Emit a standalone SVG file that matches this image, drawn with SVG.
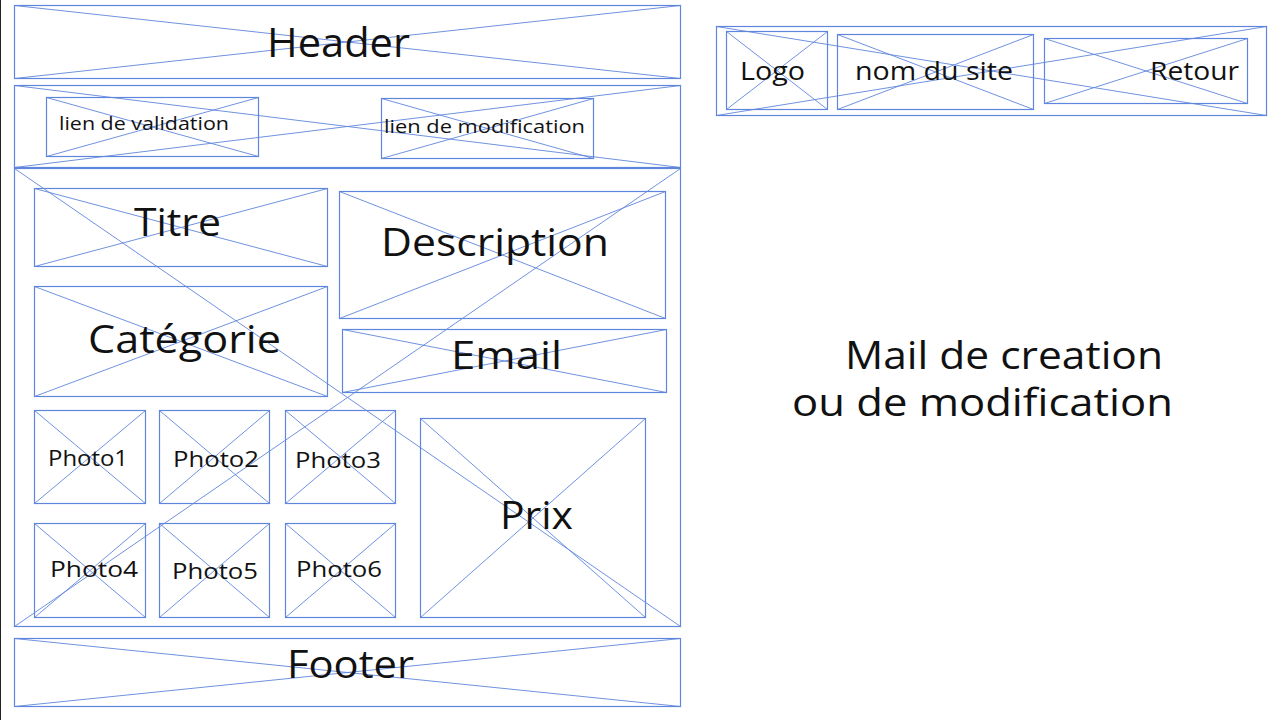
<svg xmlns="http://www.w3.org/2000/svg" width="1281" height="720" viewBox="0 0 1281 720">
<style>
.b{fill:none;stroke:#5f86dc;stroke-width:1.2}
.x{stroke:#5f86dc;stroke-width:0.9;fill:none}
text{font-family:"Open Sans","Liberation Sans",sans-serif;fill:#111;}
</style>
<rect width="1281" height="720" fill="#fff"/>
<line x1="0.5" y1="0" x2="0.5" y2="720" stroke="#222" stroke-width="1"/>
<g id="header"><rect class="b" x="14.5" y="5.5" width="666" height="73"/><path class="x" d="M14.5 5.5L680.5 78.5M680.5 5.5L14.5 78.5"/><text x="267" y="57" font-size="40" textLength="143" lengthAdjust="spacingAndGlyphs">Header</text></g>
<g id="liens"><rect class="b" x="14.5" y="85.5" width="666" height="82"/><path class="x" d="M14.5 85.5L680.5 167.5M680.5 85.5L14.5 167.5"/></g>
<g id="validation"><rect class="b" x="46.5" y="97.5" width="212" height="59"/><path class="x" d="M46.5 97.5L258.5 156.5M258.5 97.5L46.5 156.5"/><text x="59" y="130" font-size="19" textLength="170" lengthAdjust="spacingAndGlyphs">lien de validation</text></g>
<g id="modification"><rect class="b" x="381.5" y="98.5" width="212" height="60"/><path class="x" d="M381.5 98.5L593.5 158.5M593.5 98.5L381.5 158.5"/><text x="384" y="133" font-size="19" textLength="201" lengthAdjust="spacingAndGlyphs">lien de modification</text></g>
<g id="main"><rect class="b" x="14.5" y="168.5" width="666" height="458"/><path class="x" d="M14.5 168.5L680.5 626.5M680.5 168.5L14.5 626.5"/></g>
<g id="titre"><rect class="b" x="34.5" y="188.5" width="293" height="78"/><path class="x" d="M34.5 188.5L327.5 266.5M327.5 188.5L34.5 266.5"/><text x="134" y="236" font-size="38" textLength="87" lengthAdjust="spacingAndGlyphs">Titre</text></g>
<g id="description"><rect class="b" x="339.5" y="191.5" width="326" height="127"/><path class="x" d="M339.5 191.5L665.5 318.5M665.5 191.5L339.5 318.5"/><text x="381" y="256" font-size="38" textLength="228" lengthAdjust="spacingAndGlyphs">Description</text></g>
<g id="categorie"><rect class="b" x="34.5" y="286.5" width="293" height="110"/><path class="x" d="M34.5 286.5L327.5 396.5M327.5 286.5L34.5 396.5"/><text x="88" y="353" font-size="38" textLength="193" lengthAdjust="spacingAndGlyphs">Catégorie</text></g>
<g id="email"><rect class="b" x="342.5" y="329.5" width="324" height="63"/><path class="x" d="M342.5 329.5L666.5 392.5M666.5 329.5L342.5 392.5"/><text x="451" y="369" font-size="38" textLength="111" lengthAdjust="spacingAndGlyphs">Email</text></g>
<g id="photo1"><rect class="b" x="34.5" y="410.5" width="111" height="93"/><path class="x" d="M34.5 410.5L145.5 503.5M145.5 410.5L34.5 503.5"/><text x="48" y="466" font-size="22" textLength="80" lengthAdjust="spacingAndGlyphs">Photo1</text></g>
<g id="photo2"><rect class="b" x="159.5" y="410.5" width="110" height="93"/><path class="x" d="M159.5 410.5L269.5 503.5M269.5 410.5L159.5 503.5"/><text x="173" y="467" font-size="22" textLength="86" lengthAdjust="spacingAndGlyphs">Photo2</text></g>
<g id="photo3"><rect class="b" x="285.5" y="410.5" width="110" height="93"/><path class="x" d="M285.5 410.5L395.5 503.5M395.5 410.5L285.5 503.5"/><text x="295" y="468" font-size="22" textLength="86" lengthAdjust="spacingAndGlyphs">Photo3</text></g>
<g id="photo4"><rect class="b" x="34.5" y="523.5" width="111" height="94"/><path class="x" d="M34.5 523.5L145.5 617.5M145.5 523.5L34.5 617.5"/><text x="50" y="577" font-size="22" textLength="88" lengthAdjust="spacingAndGlyphs">Photo4</text></g>
<g id="photo5"><rect class="b" x="159.5" y="523.5" width="110" height="94"/><path class="x" d="M159.5 523.5L269.5 617.5M269.5 523.5L159.5 617.5"/><text x="172" y="579" font-size="22" textLength="86" lengthAdjust="spacingAndGlyphs">Photo5</text></g>
<g id="photo6"><rect class="b" x="285.5" y="523.5" width="110" height="94"/><path class="x" d="M285.5 523.5L395.5 617.5M395.5 523.5L285.5 617.5"/><text x="296" y="577" font-size="22" textLength="86" lengthAdjust="spacingAndGlyphs">Photo6</text></g>
<g id="prix"><rect class="b" x="420.5" y="418.5" width="225" height="199"/><path class="x" d="M420.5 418.5L645.5 617.5M645.5 418.5L420.5 617.5"/><text x="500" y="529" font-size="38" textLength="73" lengthAdjust="spacingAndGlyphs">Prix</text></g>
<g id="footer"><rect class="b" x="14.5" y="638.5" width="666" height="68"/><path class="x" d="M14.5 638.5L680.5 706.5M680.5 638.5L14.5 706.5"/><text x="287" y="678" font-size="38" textLength="127" lengthAdjust="spacingAndGlyphs">Footer</text></g>
<g id="mail-header"><rect class="b" x="716.5" y="26.5" width="550" height="89"/><path class="x" d="M716.5 26.5L1266.5 115.5M1266.5 26.5L716.5 115.5"/></g>
<g id="logo"><rect class="b" x="726.5" y="31.5" width="101" height="78"/><path class="x" d="M726.5 31.5L827.5 109.5M827.5 31.5L726.5 109.5"/><text x="740" y="80" font-size="26" textLength="65" lengthAdjust="spacingAndGlyphs">Logo</text></g>
<g id="nom"><rect class="b" x="837.5" y="34.5" width="196" height="75"/><path class="x" d="M837.5 34.5L1033.5 109.5M1033.5 34.5L837.5 109.5"/><text x="855" y="80" font-size="26" textLength="158" lengthAdjust="spacingAndGlyphs">nom du site</text></g>
<g id="retour"><rect class="b" x="1044.5" y="38.5" width="203" height="65"/><path class="x" d="M1044.5 38.5L1247.5 103.5M1247.5 38.5L1044.5 103.5"/><text x="1150" y="80" font-size="26" textLength="89" lengthAdjust="spacingAndGlyphs">Retour</text></g>
<g id="title"><text x="845" y="369" font-size="38" textLength="318" lengthAdjust="spacingAndGlyphs">Mail de creation</text><text x="792" y="416" font-size="38" textLength="381" lengthAdjust="spacingAndGlyphs">ou de modification</text></g>
</svg>
